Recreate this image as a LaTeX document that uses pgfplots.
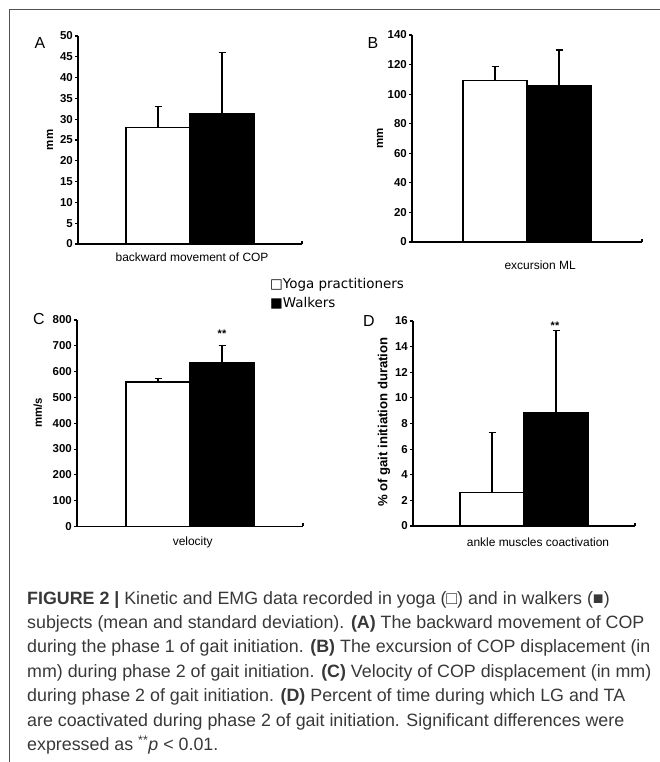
\documentclass[border=0pt]{standalone}
\usepackage{pgfplots}
\pgfplotsset{compat=1.18}
\usepackage{fontspec}
\setmainfont{Liberation Sans}
\newfontfamily\legfont{DejaVu Sans}
\definecolor{captxt}{HTML}{383838}
\definecolor{framec}{HTML}{505050}

\pgfplotsset{
 panel/.style={
  scale only axis, axis lines*=left, clip=false,
  axis line style={line width=1.3bp},
  ybar=0pt, bar width=64bp,
  xmin=-1, xmax=1, ymin=0,
  xtick={1}, xticklabels={},
  tick align=outside, major tick length=3bp,
  tick style={line width=1.1bp,black},
  x tick style={yshift=3bp},
  /pgf/number format/assume math mode=true,
  yticklabel style={font=\fontsize{11.5}{13}\selectfont\bfseries, inner xsep=2bp},
  xlabel style={font=\fontsize{12}{14}\selectfont, anchor=center},
  ylabel style={font=\fontsize{11.5}{13}\selectfont\bfseries, anchor=center},
 },
 whitebar/.style={draw=black, fill=white, line width=1.3bp,
   error bars/.cd, y dir=plus, y explicit,
   error bar style={black, line width=1.3bp},
   error mark options={black, rotate=90, mark size=3.5bp, line width=1.3bp}},
 blackbar/.style={draw=black, fill=black, line width=1.3bp,
   error bars/.cd, y dir=plus, y explicit,
   error bar style={black, line width=1.3bp},
   error mark options={black, rotate=90, mark size=3.5bp, line width=1.3bp}},
}

\begin{document}
\begin{tikzpicture}[x=1bp,y=1bp]
\path[use as bounding box] (0,0) rectangle (660,762);
\draw[framec, line width=1bp] (9.5,0) -- (9.5,752) -- (660,752);

% Panel A
\begin{axis}[panel, at={(78bp,518bp)}, anchor=south west, width=224bp, height=208bp,
  ymax=50, ytick={0,5,...,50},
  xlabel={backward movement of COP}, xlabel style={at={(axis description cs:0.509,-0.0625)}},
  ylabel={mm}, ylabel style={at={(axis description cs:-0.125,0.5)}}]
\addplot[whitebar] coordinates {(0,28) +- (0,5)};
\addplot[blackbar] coordinates {(0,31.3) +- (0,14.7)};
\end{axis}

% Panel B
\begin{axis}[panel, at={(412bp,520bp)}, anchor=south west, width=230bp, height=207bp,
  ymax=140, ytick={0,20,...,140},
  xlabel={excursion ML}, xlabel style={at={(axis description cs:0.557,-0.111)}},
  ylabel={mm}, ylabel style={at={(axis description cs:-0.139,0.502)}}]
\addplot[whitebar] coordinates {(0,109.2) +- (0,9.3)};
\addplot[blackbar] coordinates {(0,105.8) +- (0,24)};
\end{axis}

% Panel C
\begin{axis}[panel, at={(77bp,235.5bp)}, anchor=south west, width=226bp, height=206.5bp,
  ymax=800, ytick={0,100,...,800},
  xlabel={velocity}, xlabel style={at={(axis description cs:0.512,-0.078)}},
  ylabel={mm/s}, ylabel style={at={(axis description cs:-0.173,0.55)}}]
\addplot[whitebar] coordinates {(0,560) +- (0,13)};
\addplot[blackbar] coordinates {(0,634) +- (0,66)};
\end{axis}

% Panel D
\begin{axis}[panel, at={(413bp,236bp)}, anchor=south west, width=222bp, height=205bp,
  ymax=16, ytick={0,2,...,16},
  xlabel={ankle muscles coactivation}, xlabel style={at={(axis description cs:0.563,-0.081)}},
  ylabel={\% of gait initiation duration}, ylabel style={at={(axis description cs:-0.131,0.507)}, font=\fontsize{13.2}{15}\selectfont\bfseries}]
\addplot[whitebar] coordinates {(0,2.6) +- (0,4.7)};
\addplot[blackbar] coordinates {(0,8.85) +- (0,6.4)};
\end{axis}

% significance marks
\node[font=\fontsize{11}{12}\selectfont\bfseries] at (222,428) {**};
\node[font=\fontsize{11}{12}\selectfont\bfseries] at (555,436) {**};

% panel letters
\node[font=\fontsize{16}{18}\selectfont] at (40,719) {A};
\node[font=\fontsize{16}{18}\selectfont] at (373,719) {B};
\node[font=\fontsize{16}{18}\selectfont] at (39,443) {C};
\node[font=\fontsize{16}{18}\selectfont] at (369,441) {D};

% legend
\node[anchor=west, inner sep=0pt, font=\legfont\fontsize{13.5}{15}\selectfont] at (270,477) {□Yoga practitioners};
\node[anchor=west, inner sep=0pt, font=\legfont\fontsize{13.5}{15}\selectfont] at (270,458.7) {■Walkers};

% caption
\node[anchor=base west, inner sep=0pt, align=left, text=captxt, font=\fontsize{17.9}{24.5}\selectfont] at (27,11.5) {%
\textbf{FIGURE 2 |} Kinetic and EMG data recorded in yoga (□) and in walkers (■)\\
subjects (mean and standard deviation). \textbf{(A)} The backward movement of COP\\
during the phase 1 of gait initiation. \textbf{(B)} The excursion of COP displacement (in\\
mm) during phase 2 of gait initiation. \textbf{(C)} Velocity of COP displacement (in mm)\\
during phase 2 of gait initiation. \textbf{(D)} Percent of time during which LG and TA\\
are coactivated during phase 2 of gait initiation. Significant differences were\\
expressed as \textsuperscript{**}\textit{p} < 0.01.};
\end{tikzpicture}
\end{document}
